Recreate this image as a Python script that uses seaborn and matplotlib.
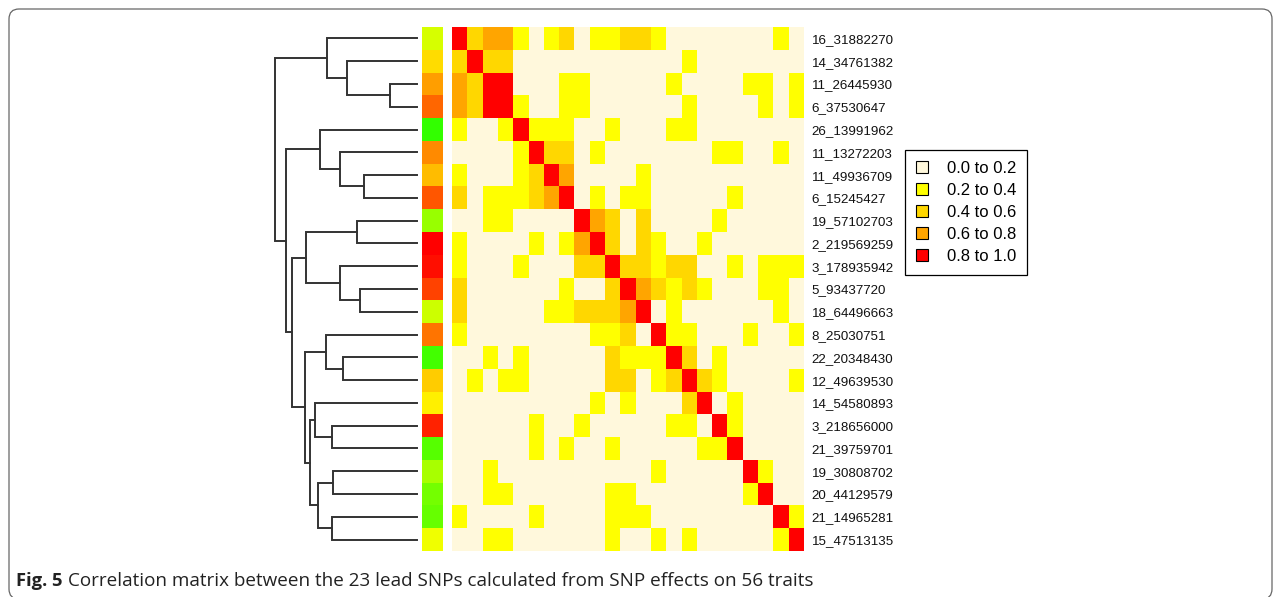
import numpy as np
import pandas as pd
import seaborn as sns
import matplotlib.pyplot as plt
from matplotlib.colors import ListedColormap, LinearSegmentedColormap
from matplotlib.patches import Patch, FancyBboxPatch

# SNP labels in dendrogram order
snps = ['16_31882270', '14_34761382', '11_26445930', '6_37530647', '26_13991962',
        '11_13272203', '11_49936709', '6_15245427', '19_57102703', '2_219569259',
        '3_178935942', '5_93437720', '18_64496663', '8_25030751', '22_20348430',
        '12_49639530', '14_54580893', '3_218656000', '21_39759701', '19_30808702',
        '20_44129579', '21_14965281', '15_47513135']

# correlation values (read as bin midpoints from the picture)
C, Y, G, O, R, D = 0.1, 0.3, 0.5, 0.7, 0.9, 1.0
corr = [
    [D, G, O, O, Y, C, Y, G, C, Y, Y, G, G, Y, C, C, C, C, C, C, C, Y, C],
    [G, D, G, G, C, C, C, C, C, C, C, C, C, C, C, Y, C, C, C, C, C, C, C],
    [O, G, D, R, C, C, C, Y, Y, C, C, C, C, C, Y, C, C, C, C, Y, Y, C, Y],
    [O, G, R, D, Y, C, C, Y, Y, C, C, C, C, C, C, Y, C, C, C, C, Y, C, Y],
    [Y, C, C, Y, D, Y, Y, Y, C, C, Y, C, C, C, Y, Y, C, C, C, C, C, C, C],
    [C, C, C, C, Y, D, G, G, C, Y, C, C, C, C, C, C, C, Y, Y, C, C, Y, C],
    [Y, C, C, C, Y, G, D, O, C, C, C, C, Y, C, C, C, C, C, C, C, C, C, C],
    [G, C, Y, Y, Y, G, O, D, C, Y, C, Y, Y, C, C, C, C, C, Y, C, C, C, C],
    [C, C, Y, Y, C, C, C, C, D, O, G, C, G, C, C, C, C, Y, C, C, C, C, C],
    [Y, C, C, C, C, Y, C, Y, O, D, G, C, G, Y, C, C, Y, C, C, C, C, C, C],
    [Y, C, C, C, Y, C, C, C, G, G, D, G, G, Y, G, G, C, C, Y, C, Y, Y, Y],
    [G, C, C, C, C, C, C, Y, C, C, G, D, O, G, Y, G, Y, C, C, C, Y, Y, C],
    [G, C, C, C, C, C, Y, Y, G, G, G, O, D, C, Y, C, C, C, C, C, C, Y, C],
    [Y, C, C, C, C, C, C, C, C, Y, Y, G, C, D, Y, Y, C, C, C, Y, C, C, Y],
    [C, C, Y, C, Y, C, C, C, C, C, G, Y, Y, Y, D, G, C, Y, C, C, C, C, C],
    [C, Y, C, Y, Y, C, C, C, C, C, G, G, C, Y, G, D, G, Y, C, C, C, C, Y],
    [C, C, C, C, C, C, C, C, C, Y, C, Y, C, C, C, G, D, C, Y, C, C, C, C],
    [C, C, C, C, C, Y, C, C, Y, C, C, C, C, C, Y, Y, C, D, Y, C, C, C, C],
    [C, C, C, C, C, Y, C, Y, C, C, Y, C, C, C, C, C, Y, Y, D, C, C, C, C],
    [C, C, Y, C, C, C, C, C, C, C, C, C, C, Y, C, C, C, C, C, D, Y, C, C],
    [C, C, Y, Y, C, C, C, C, C, C, Y, Y, C, C, C, C, C, C, C, Y, D, C, C],
    [Y, C, C, C, C, Y, C, C, C, C, Y, Y, Y, C, C, C, C, C, C, C, C, D, Y],
    [C, C, Y, Y, C, C, C, C, C, C, Y, C, C, Y, C, Y, C, C, C, C, C, Y, D],
]

# side colour bar score (0 = red, 0.5 = yellow, 1 = green)
side = [0.58, 0.43, 0.31, 0.20, 0.90, 0.27, 0.37, 0.17, 0.70, 0.00, 0.03, 0.13,
        0.60, 0.23, 0.87, 0.40, 0.47, 0.07, 0.83, 0.67, 0.77, 0.80, 0.53]

# dendrogram: (height, left, right), leaves are row indices
tree = (1.00,
        (0.63, 0, (0.49, 1, (0.19, 2, 3))),
        (0.92,
         (0.68, 4, (0.54, 5, (0.37, 6, 7))),
         (0.88,
          (0.78, (0.42, 8, 9), (0.54, 10, (0.40, 11, 12))),
          (0.79,
           (0.64, 13, (0.52, 14, 15)),
           (0.75,
            (0.72, 16, (0.60, 17, 18)),
            (0.70, (0.59, 19, 20), (0.60, 21, 22)))))))

bins = ['0.0 to 0.2', '0.2 to 0.4', '0.4 to 0.6', '0.6 to 0.8', '0.8 to 1.0']
bin_colors = ['#FFF8DC', '#FFFF00', '#FFD700', '#FFA500', '#FF0000']

plt.rcParams['font.family'] = ['Liberation Sans', 'DejaVu Sans']

W, H = 1281, 597
fig = plt.figure(figsize=(W / 100, H / 100), dpi=100)


def box(x0, y0, x1, y1):
    return [x0 / W, 1 - y1 / H, (x1 - x0) / W, (y1 - y0) / H]


top, bot = 27, 551

# heatmap
df = pd.DataFrame(corr, index=snps, columns=snps)
ax = fig.add_axes(box(452, top, 804, bot))
sns.heatmap(df, ax=ax, cmap=ListedColormap(bin_colors), vmin=0, vmax=1,
            cbar=False, xticklabels=False, yticklabels=snps)
ax.yaxis.tick_right()
ax.tick_params(axis='y', length=0, pad=5.5, labelrotation=0, labelsize=9.6,
               labelcolor='#111111')
ax.set_xlabel('')
ax.set_ylabel('')

# side colour bar
ax_side = fig.add_axes(box(421.7, top, 443.3, bot))
ryg = LinearSegmentedColormap.from_list('ryg', ['#FF0000', '#FFFF00', '#00FF00'])
sns.heatmap(pd.DataFrame({'s': side}), ax=ax_side, cmap=ryg, vmin=0, vmax=1,
            cbar=False, xticklabels=False, yticklabels=False)
ax_side.set_xlabel('')
ax_side.set_ylabel('')

# dendrogram
ax_d = fig.add_axes(box(275, top, 416.7, bot))
ax_d.set_xlim(1.0, 0.0)
ax_d.set_ylim(len(snps), 0)
ax_d.axis('off')


def draw(node):
    if isinstance(node, int):
        return node + 0.5, 0.0
    h, a, b = node
    ya, ha = draw(a)
    yb, hb = draw(b)
    ax_d.plot([ha, h, h, hb], [ya, ya, yb, yb], color='#333333', lw=1.4,
              solid_joinstyle='miter', clip_on=False)
    return (ya + yb) / 2, h


draw(tree)

# legend
handles = [Patch(facecolor=c, edgecolor='black', linewidth=0.8) for c in bin_colors]
leg = fig.legend(handles, bins, loc='upper left', bbox_to_anchor=(905 / W, 1 - 150 / H),
                 borderaxespad=0, fancybox=False, edgecolor='black', framealpha=1,
                 prop={'family': 'Liberation Sans', 'size': 12},
                 handlelength=0.75, handleheight=0.75, handletextpad=1.1,
                 labelspacing=0.42, borderpad=0.65)
leg.get_frame().set_linewidth(0.9)

# outer frame (inches, so the corner radius stays round)
frame = FancyBboxPatch((9 / 100, (H - 599) / 100), (1272 - 9) / 100, (599 - 9) / 100,
                       boxstyle='round,pad=0,rounding_size=0.1',
                       transform=fig.dpi_scale_trans, facecolor='none',
                       edgecolor='#666666', linewidth=0.9, clip_on=False)
fig.patches.append(frame)

# caption
cap_y = 1 - 586 / H
t1 = fig.text(16 / W, cap_y, 'Fig. 5', fontfamily='Open Sans', fontweight='bold',
              fontsize=13.2, va='baseline', ha='left', color='#222222')
fig.canvas.draw()
x_next = t1.get_window_extent().x1 + 5
fig.text(x_next / W, cap_y,
         'Correlation matrix between the 23 lead SNPs calculated from SNP effects on 56 traits',
         fontfamily='Open Sans', fontsize=13.6, va='baseline', ha='left', color='#222222')

fig.savefig('out.png', dpi=100)
